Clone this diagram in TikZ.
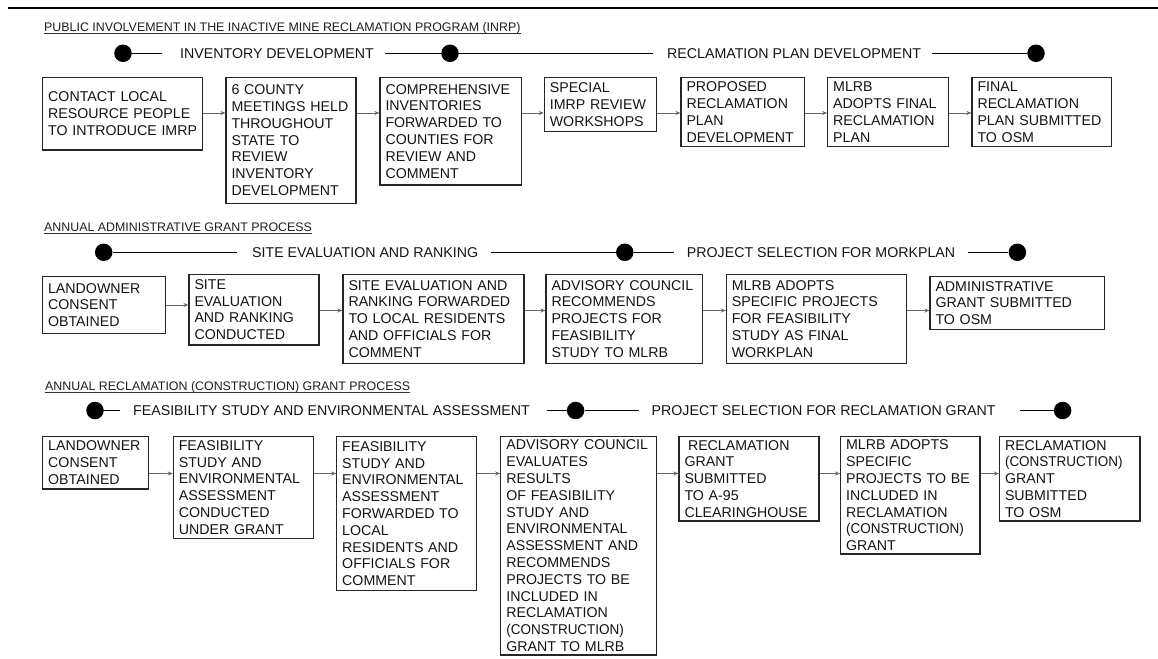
\documentclass[tikz,border=0pt]{standalone}
\usepackage{fontspec}
\setmainfont{Liberation Sans}
\newfontfamily\narrowf[FakeStretch=0.95]{Liberation Sans}
\usetikzlibrary{arrows.meta,calc}
\newcommand\boxfont{\fontsize{14.2}{16.8}\selectfont}
\newcommand\phasefont{\fontsize{14.2}{16}\selectfont}
\newcommand\titlefont{\fontsize{12.4}{14}\selectfont}
\newcommand\cons{{\narrowf\fontsize{14.2}{16.8}\selectfont (CONSTRUCTION)}}
\newcommand\bx[6]{%
  \pgfmathsetmacro\bxw{#4-#2}%
  \pgfmathsetmacro\bxh{#5-#3}%
  \pgfmathsetmacro\bxt{#4-#2-11}%
  \node[box,minimum width=\bxw pt,minimum height=\bxh pt,text width=\bxt pt] (#1) at ({(#2+#4)/2},{-(#3+#5)/2}) {#6};}
\begin{document}
\begin{tikzpicture}[x=1pt,y=1pt,
  box/.style={draw=black!85,line width=1.1pt,inner xsep=5.5pt,inner ysep=0pt,align=left,font=\boxfont,text=black!92},
  arr/.style={draw=black!60,line width=0.9pt,-{Stealth[length=5pt,width=4pt]}},
  dot/.style={circle,fill=black,minimum size=17.5pt,inner sep=0pt},
  phase/.style={font=\phasefont,inner sep=0pt,text=black!92,anchor=west},
  pl/.style={draw=black,line width=1pt},
  ttl/.style={font=\titlefont,inner sep=0pt,text=black!88,anchor=base west},
  ul/.style={draw=black!80,line width=0.8pt}]
\useasboundingbox (0,0) rectangle (1158,-658);
\fill[white] (0,0) rectangle (1158,-658);
% top rule
\draw[line width=2.2pt] (8,-8) -- (1158,-8);

% ---------- Section 1 ----------
\node[ttl] (t1) at (44,-31.8) {PUBLIC INVOLVEMENT IN THE INACTIVE MINE RECLAMATION PROGRAM (INRP)};
\draw[ul] ([yshift=-1.6pt]t1.base west) -- ([yshift=-1.6pt]t1.base east);

\node[dot] (p1a) at (123,-53.3) {};
\node[phase] (p1l) at (180,-53.3) {INVENTORY DEVELOPMENT};
\node[dot] (p1b) at (450,-53.3) {};
\node[phase] (p1m) at (667,-53.3) {RECLAMATION PLAN DEVELOPMENT};
\node[dot] (p1c) at (1036,-53.3) {};
\draw[pl] (p1a) -- ([xshift=-18pt]p1l.west);
\draw[pl] ([xshift=11pt]p1l.east) -- (p1b);
\draw[pl] (p1b) -- ([xshift=-14pt]p1m.west);
\draw[pl] ([xshift=11pt]p1m.east) -- (p1c);

\bx{A1}{42.7}{77.3}{202.7}{150}{CONTACT~LOCAL\\RESOURCE~PEOPLE\\TO~INTRODUCE~IMRP}
\bx{A2}{226}{77.3}{356}{203.3}{6~COUNTY\\MEETINGS~HELD\\THROUGHOUT\\STATE~TO\\REVIEW\\INVENTORY\\DEVELOPMENT}
\bx{A3}{380}{77.3}{521.7}{185}{COMPREHENSIVE\\INVENTORIES\\FORWARDED~TO\\COUNTIES~FOR\\REVIEW~AND\\COMMENT}
\bx{A4}{544.3}{77.3}{656.7}{131.7}{SPECIAL\\IMRP~REVIEW\\WORKSHOPS}
\bx{A5}{681}{77.3}{804.3}{146.7}{PROPOSED\\RECLAMATION\\PLAN\\DEVELOPMENT}
\bx{A6}{827.7}{77.3}{948.3}{146.7}{MLRB\\ADOPTS~FINAL\\RECLAMATION\\PLAN}
\bx{A7}{972}{77.3}{1111.7}{146.7}{FINAL\\RECLAMATION\\PLAN~SUBMITTED\\TO~OSM}

\coordinate (r1) at (0,-113);
\draw[arr] (A1.east |- r1) -- (A2.west |- r1);
\draw[arr] (A2.east |- r1) -- (A3.west |- r1);
\draw[arr] (A3.east |- r1) -- (A4.west |- r1);
\draw[arr] (A4.east |- r1) -- (A5.west |- r1);
\draw[arr] (A5.east |- r1) -- (A6.west |- r1);
\draw[arr] (A6.east |- r1) -- (A7.west |- r1);

% ---------- Section 2 ----------
\node[ttl] (t2) at (44,-231.8) {ANNUAL ADMINISTRATIVE GRANT PROCESS};
\draw[ul] ([yshift=-1.6pt]t2.base west) -- ([yshift=-1.6pt]t2.base east);

\node[dot] (p2a) at (103.7,-252.3) {};
\node[phase] (p2l) at (252,-252.3) {SITE EVALUATION AND RANKING};
\node[dot] (p2b) at (624.8,-252.3) {};
\node[phase] (p2m) at (686.7,-252.3) {PROJECT SELECTION FOR MORKPLAN};
\node[dot] (p2c) at (1017.4,-252.3) {};
\draw[pl] (p2a) -- ([xshift=-15pt]p2l.west);
\draw[pl] ([xshift=13pt]p2l.east) -- (p2b);
\draw[pl] (p2b) -- ([xshift=-13pt]p2m.west);
\draw[pl] ([xshift=12.7pt]p2m.east) -- (p2c);

\bx{B1}{42.6}{276.7}{165.6}{333.3}{LANDOWNER\\CONSENT\\OBTAINED}
\bx{B2}{189}{274.3}{319}{345}{SITE\\EVALUATION\\AND~RANKING\\CONDUCTED}
\bx{B3}{343}{274.3}{524}{363.3}{SITE~EVALUATION~AND\\RANKING~FORWARDED\\TO~LOCAL~RESIDENTS\\AND~OFFICIALS~FOR\\COMMENT}
\bx{B4}{546}{274.3}{702.6}{363.3}{ADVISORY~COUNCIL\\RECOMMENDS\\PROJECTS~FOR\\FEASIBILITY\\STUDY~TO~MLRB}
\bx{B5}{726.3}{274.3}{906.3}{363.3}{MLRB~ADOPTS\\SPECIFIC~PROJECTS\\FOR~FEASIBILITY\\STUDY~AS~FINAL\\WORKPLAN}
\bx{B6}{930}{276.7}{1104.4}{329.3}{ADMINISTRATIVE\\GRANT~SUBMITTED\\TO~OSM}

\coordinate (r2) at (0,-310.5);
\draw[arr] (B1.east) -- (B1.east -| B2.west);
\draw[arr] (B2.east |- r2) -- (B3.west |- r2);
\draw[arr] (B3.east |- r2) -- (B4.west |- r2);
\draw[arr] (B4.east |- r2) -- (B5.west |- r2);
\draw[arr] (B5.east |- r2) -- (B6.west |- r2);

% ---------- Section 3 ----------
\node[ttl] (t3) at (45,-390.5) {ANNUAL RECLAMATION (CONSTRUCTION) GRANT PROCESS};
\draw[ul] ([yshift=-1.6pt]t3.base west) -- ([yshift=-1.6pt]t3.base east);

\node[dot] (p3a) at (95,-410.5) {};
\node[phase] (p3l) at (133,-410.5) {FEASIBILITY STUDY AND ENVIRONMENTAL ASSESSMENT};
\node[dot] (p3b) at (575.6,-410.5) {};
\node[phase] (p3m) at (651.5,-410.5) {PROJECT SELECTION FOR RECLAMATION GRANT};
\node[dot] (p3c) at (1062.6,-410.5) {};
\draw[pl] (p3a) -- ([xshift=-13pt]p3l.west);
\draw[pl] ([xshift=16.5pt]p3l.east) -- (p3b);
\draw[pl] (p3b) -- ([xshift=-13pt]p3m.west);
\draw[pl] ([xshift=24pt]p3m.east) -- (p3c);

\bx{C1}{42.7}{436.7}{148.3}{489}{LANDOWNER\\CONSENT\\OBTAINED}
\bx{C2}{173.3}{436.7}{313.3}{538.3}{FEASIBILITY\\STUDY~AND\\ENVIRONMENTAL\\ASSESSMENT\\CONDUCTED\\UNDER~GRANT}
\bx{C3}{336.7}{436.7}{476.7}{590.7}{FEASIBILITY\\STUDY~AND\\ENVIRONMENTAL\\ASSESSMENT\\FORWARDED~TO\\LOCAL\\RESIDENTS~AND\\OFFICIALS~FOR\\COMMENT}
\bx{C4}{500.8}{436.7}{656.6}{655}{ADVISORY~COUNCIL\\EVALUATES\\RESULTS\\OF~FEASIBILITY\\STUDY~AND\\ENVIRONMENTAL\\ASSESSMENT~AND\\RECOMMENDS\\PROJECTS~TO~BE\\INCLUDED~IN\\RECLAMATION\\\cons\\GRANT~TO~MLRB}
\bx{C5}{679}{436.7}{819}{521}{\hspace{3.5pt}RECLAMATION\\GRANT\\SUBMITTED\\TO~A-95\\CLEARINGHOUSE}
\bx{C6}{840.6}{436.7}{980}{554}{MLRB~ADOPTS\\SPECIFIC\\PROJECTS~TO~BE\\INCLUDED~IN\\RECLAMATION\\\cons\\GRANT}
\bx{C7}{999.5}{436.7}{1140}{521}{RECLAMATION\\\cons\\GRANT\\SUBMITTED\\TO~OSM}

\coordinate (r3) at (0,-473.5);
\draw[arr] (C1.east |- r3) -- (C2.west |- r3);
\draw[arr] (C2.east |- r3) -- (C3.west |- r3);
\draw[arr] (C3.east |- r3) -- (C4.west |- r3);
\draw[arr] (C4.east |- r3) -- (C5.west |- r3);
\draw[arr] (C5.east |- r3) -- (C6.west |- r3);
\draw[arr] (C6.east |- r3) -- (C7.west |- r3);
\end{tikzpicture}
\end{document}
